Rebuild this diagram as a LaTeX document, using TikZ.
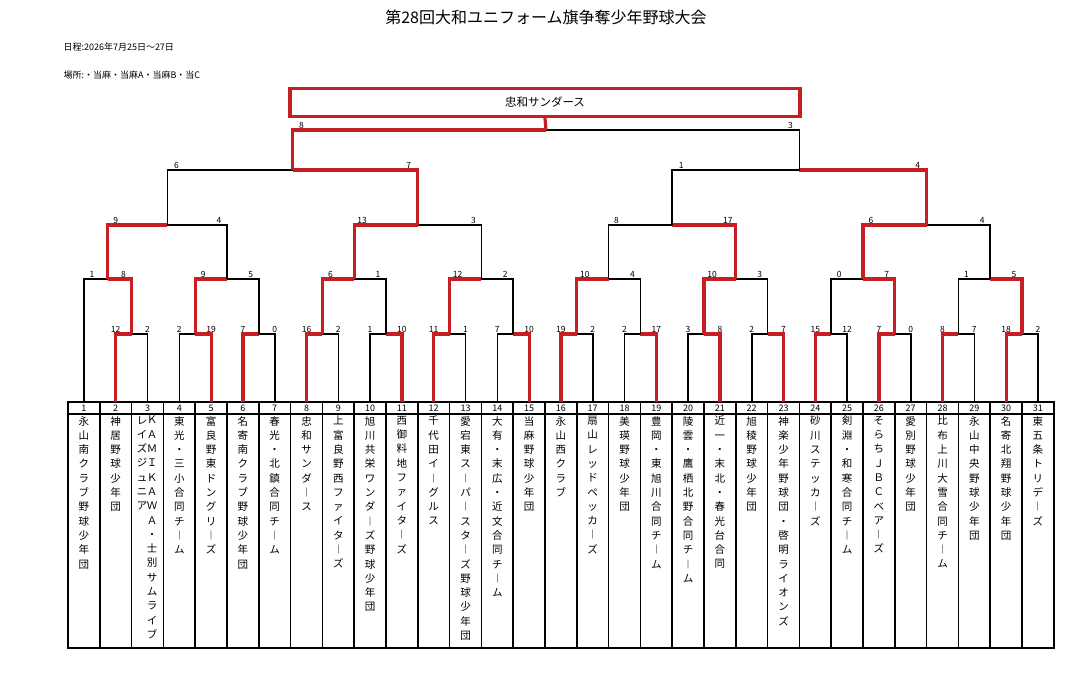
\documentclass[tikz,border=0pt]{standalone}
\usepackage{fontspec}
\setmainfont{Noto Sans CJK JP}
\usetikzlibrary{calc}
\definecolor{winred}{RGB}{200,30,35}

\makeatletter
% stack one character per line
\newcommand\tate[1]{\@tfor\tch:=#1\do{\tch\\}}
\makeatother

\tikzset{
  lose/.style={black,line width=1.6pt},
  win/.style={winred,line width=3.2pt},
  score/.style={font=\fontsize{8.5}{8.5}\selectfont,inner sep=1.5pt,anchor=south},
  team/.style={font=\fontsize{10.5}{14.3}\selectfont,anchor=north,align=center,inner sep=0pt},
  tnum/.style={font=\fontsize{9}{9}\selectfont,inner sep=0pt},
}

% match: name, left, right, y, left score, right score, label shift
\newcommand\match[7]{%
  \path let \p1=(#2),\p2=(#3) in coordinate (#1) at ({(\x1+\x2)/2},{-#4pt});
  \ifnum#5>#6
    \draw[lose] (#3) |- (#1); \draw[win] (#2) |- (#1);
  \else
    \draw[lose] (#2) |- (#1); \draw[win] (#3) |- (#1);
  \fi
  \path let \p1=(#2),\p2=(#3) in
    node[score] at ({\x1+#7pt},{-#4pt}) {#5}
    node[score] at ({\x2-#7pt},{-#4pt}) {#6};
}

\begin{document}
\begin{tikzpicture}[x=1pt,y=-1pt]
\useasboundingbox (0,0) rectangle (1079,691);

% header
\node[font=\fontsize{16}{16}\selectfont] (title) at (546,17) {第28回大和ユニフォーム旗争奪少年野球大会};
\node[font=\fontsize{9}{9}\selectfont,anchor=west] (date) at (60,47) {日程:2026年7月25日～27日};
\node[font=\fontsize{9}{9}\selectfont,anchor=west] (place) at (60,75) {場所:・当麻・当麻A・当麻B・当C};

% team table
\draw[line width=1.5pt] (68,402) rectangle (1054,648);
\draw[line width=1.2pt] (68,414) -- (1054,414);
\foreach \i in {1,...,30}
  \draw[line width=1.5pt] ({68+31.8*\i},402) -- ({68+31.8*\i},648);

\foreach \i/\nm in {1/永山南クラブ野球少年団,2/神居野球少年団,4/東光・三小合同チ︱ム,
  5/富良野東ドングリ︱ズ,6/名寄南クラブ野球少年団,7/春光・北鎮合同チ︱ム,8/忠和サンダ︱ス,
  9/上富良野西ファイタ︱ズ,10/旭川共栄ワンダ︱ズ野球少年団,11/西御料地ファイタ︱ズ,
  12/千代田イ︱グルス,13/愛宕東ス︱パ︱スタ︱ズ野球少年団,14/大有・末広・近文合同チ︱ム,
  15/当麻野球少年団,16/永山西クラブ,17/扇山レッドペッカ︱ズ,18/美瑛野球少年団,
  19/豊岡・東旭川合同チ︱ム,20/陵雲・鷹栖北野合同チ︱ム,21/近一・末北・春光台合同,
  22/旭稜野球少年団,23/神楽少年野球団・啓明ライオンズ,24/砂川ステッカ︱ズ,
  25/剣淵・和寒合同チ︱ム,26/そらちＪＢＣベア︱ズ,27/愛別野球少年団,
  28/比布上川大雪合同チ︱ム,29/永山中央野球少年団,30/名寄北翔野球少年団,31/東五条トリデ︱ズ}
  \node[team] (n\i) at ({68+31.8*(\i-0.5)},416) {\expandafter\tate\expandafter{\nm}};
\node[team] (n3a) at ({68+31.8*2.5+4.5},416) {\tate{ＫＡＭＩＫＡＷＡ・士別サムライブ}};
\node[team] (n3b) at ({68+31.8*2.5-5.5},416) {\tate{レイズジュニア}};

\foreach \i in {1,...,31} {
  \coordinate (t\i) at ({68+31.8*(\i-0.5)},402);
  \node[tnum] (k\i) at ({68+31.8*(\i-0.5)},408.5) {\i};
}

% first round
\foreach \a/\b/\sa/\sb in {2/3/12/2,4/5/2/19,6/7/7/0,8/9/16/2,10/11/1/10,12/13/11/1,
  14/15/7/10,16/17/19/2,18/19/2/17,20/21/3/8,22/23/2/7,24/25/15/12,26/27/7/0,28/29/8/7,30/31/18/2}
  {\match{a\a}{t\a}{t\b}{334}{\sa}{\sb}{0}}

% second round
\match{b1}{t1}{a2}{279}{1}{8}{8}
\match{b2}{a4}{a6}{279}{9}{5}{8}
\match{b3}{a8}{a10}{279}{6}{1}{8}
\match{b4}{a12}{a14}{279}{12}{2}{8}
\match{b5}{a16}{a18}{279}{10}{4}{8}
\match{b6}{a20}{a22}{279}{10}{3}{8}
\match{b7}{a24}{a26}{279}{0}{7}{8}
\match{b8}{a28}{a30}{279}{1}{5}{8}

% third round
\match{c1}{b1}{b2}{225}{9}{4}{8}
\match{c2}{b3}{b4}{225}{13}{3}{8}
\match{c3}{b5}{b6}{225}{8}{17}{8}
\match{c4}{b7}{b8}{225}{6}{4}{8}

% semi finals and final
\match{d1}{c1}{c2}{170}{6}{7}{9}
\match{d2}{c3}{c4}{170}{1}{4}{9}
\match{fin}{d1}{d2}{130}{8}{3}{9}

\node[draw=winred,line width=3.2pt,minimum width=510pt,minimum height=28pt,
  font=\fontsize{11.5}{11.5}\selectfont] (champ) at (545,102.5) {忠和サンダース};
\draw[win] (fin) -- (champ.south);
\end{tikzpicture}
\end{document}
